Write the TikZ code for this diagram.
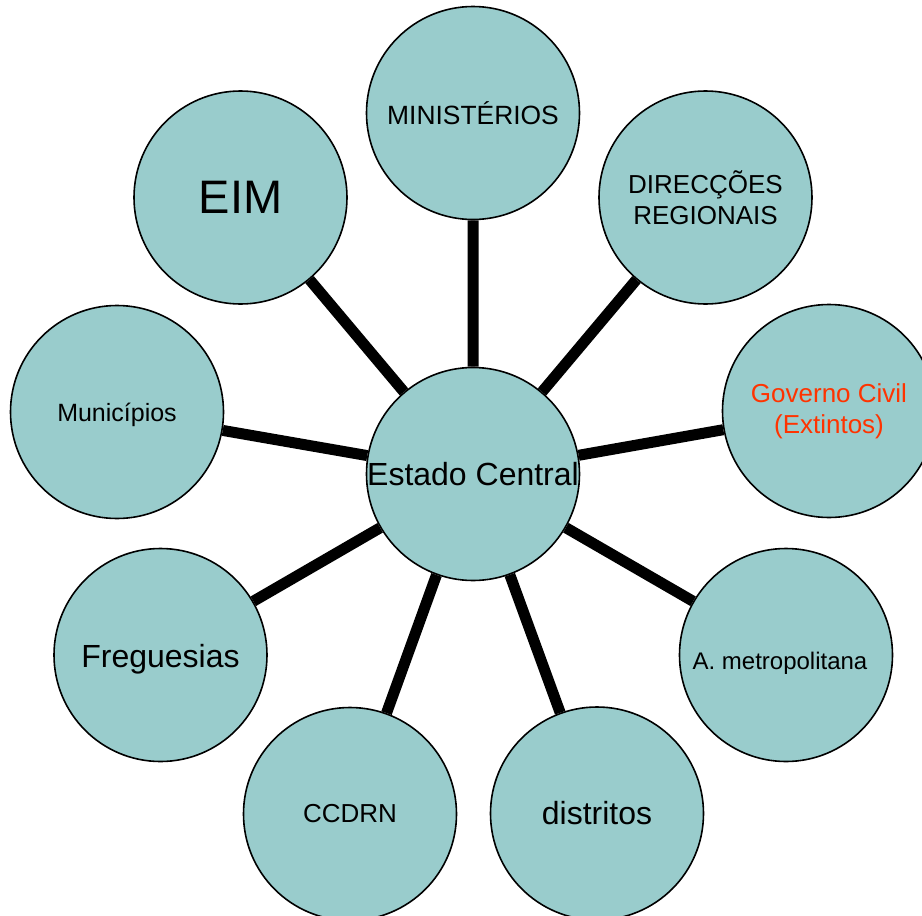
\documentclass[tikz,border=0pt]{standalone}
\usepackage{fontspec}
\setmainfont{Liberation Sans}
\definecolor{verdeagua}{RGB}{153,204,204}
\definecolor{laranja}{RGB}{255,51,0}
\begin{document}
\begin{tikzpicture}[x=0.5pt,y=-0.5pt,
        bolha/.style={circle,draw=black,line width=0.8pt,fill=verdeagua,
            minimum size=106.5pt,inner sep=0pt,align=center,
            font=\fontsize{13}{15.5}\selectfont},
        raio/.style={line width=5.5pt}]
        \clip (0,0) rectangle (922,916);
        % Centro
        \node[bolha,font=\fontsize{16}{19}\selectfont] (C) at (473,474) {\makebox[0pt]{Estado Central}};
        % Bolhas em volta
        \node[bolha,font=\fontsize{13.2}{15.5}\selectfont] (MIN) at (473,113) {MINISTÉRIOS};
        \node[bolha] (DIR) at (705.5,197.5) {DIRECÇÕES\\REGIONAIS};
        \node[bolha,text=laranja] (GOV) at (829,411) {Governo Civil\\(Extintos)};
        \node[bolha,font=\fontsize{12}{14}\selectfont] (MET) at (786,655) {\raisebox{-4pt}[\height][\depth]{A. metropolitana\hspace{6pt}}};
        \node[bolha,font=\fontsize{16}{19}\selectfont] (DIS) at (597,813.5) {distritos};
        \node[bolha] (CCD) at (350,814) {CCDRN};
        \node[bolha,font=\fontsize{16}{19}\selectfont] (FRE) at (160.5,655) {\raisebox{-2pt}[\height][\depth]{Freguesias}};
        \node[bolha,font=\fontsize{12.5}{15}\selectfont] (MUN) at (117,412) {\raisebox{-1.5pt}[\height][\depth]{Municípios}};
        \node[bolha,font=\fontsize{23.5}{28}\selectfont] (EIM) at (240.5,197.5) {EIM};
        % Ligações ao centro
        \draw[raio]
        (C) -- (MIN)
        (C) -- (DIR)
        (C) -- (GOV)
        (C) -- (MET)
        (C) -- (DIS)
        (C) -- (CCD)
        (C) -- (FRE)
        (C) -- (MUN)
        (C) -- (EIM)
        ;
\end{tikzpicture}
\end{document}
